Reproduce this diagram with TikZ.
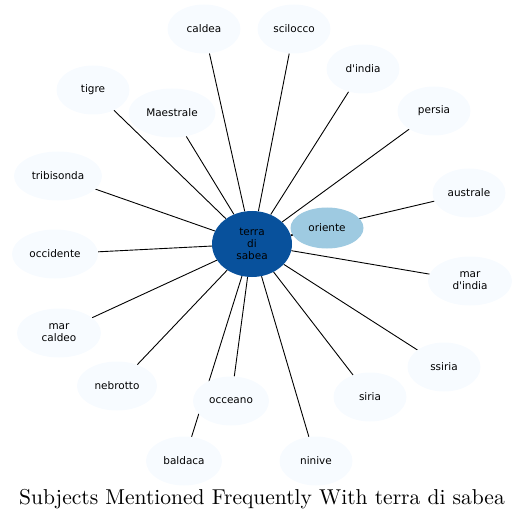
\documentclass[tikz,border=0pt]{standalone}
\usepackage{fontspec}
\newfontfamily\labelfont{DejaVu Sans}
\newfontfamily\titlefont{lmroman10-regular.otf}
\usepackage{tikz}
\usetikzlibrary{shapes.geometric,backgrounds}
\definecolor{hubblue}{RGB}{8,81,156}
\definecolor{topicblue}{RGB}{158,202,225}
\definecolor{leafblue}{RGB}{247,251,255}

\begin{document}
\begin{tikzpicture}[x=1bp, y=-1bp,
    subject/.style={ellipse, fill=leafblue, minimum width=73bp,
        minimum height=49bp, inner sep=0pt, align=center,
        font=\labelfont\fontsize{10.5}{12}\selectfont},
    link/.style={draw=black, line width=0.9pt}
]
\useasboundingbox (0,0) rectangle (524,521);
% hub and the highlighted topic
\node[subject, fill=hubblue, minimum width=80bp, minimum height=66bp] (hub) at (252,244) {terra\\di\\sabea};
\node[subject, fill=topicblue, minimum height=41bp] (oriente) at (327,228) {oriente};
% surrounding subjects
\node[subject] (caldea) at (204,29) {caldea};
\node[subject] (scilocco) at (294,29) {scilocco};
\node[subject] (dindia) at (363,69) {d\textquotesingle india};
\node[subject] (persia) at (434,111) {persia};
\node[subject] (australe) at (469,193) {australe};
\node[subject, minimum width=84bp] (mardindia) at (470,281) {mar\\d\textquotesingle india};
\node[subject] (ssiria) at (444,367) {ssiria};
\node[subject] (siria) at (370,397) {siria};
\node[subject] (ninive) at (316,461) {ninive};
\node[subject, minimum width=76bp] (occeano) at (231,401) {occeano};
\node[subject, minimum width=76bp] (baldaca) at (184,461) {baldaca};
\node[subject, minimum width=80bp] (nebrotto) at (117,386) {nebrotto};
\node[subject, minimum width=84bp] (marcaldeo) at (59,333) {mar\\caldeo};
\node[subject, minimum width=86bp] (occidente) at (55,254) {occidente};
\node[subject, minimum width=88bp] (tribisonda) at (58,176) {tribisonda};
\node[subject] (tigre) at (93,90) {tigre};
\node[subject, minimum width=87bp] (maestrale) at (172,113) {Maestrale};
% links from the hub
\begin{scope}[on background layer]
\foreach \s in {oriente,caldea,scilocco,dindia,persia,australe,mardindia,ssiria,
    siria,ninive,occeano,baldaca,nebrotto,marcaldeo,occidente,tribisonda,tigre,maestrale}
    \draw[link] (hub) -- (\s);
\end{scope}
\node[font=\titlefont\fontsize{21.6}{26}\selectfont] (title) at (262,499) {Subjects Mentioned Frequently With terra di sabea};
\end{tikzpicture}
\end{document}
